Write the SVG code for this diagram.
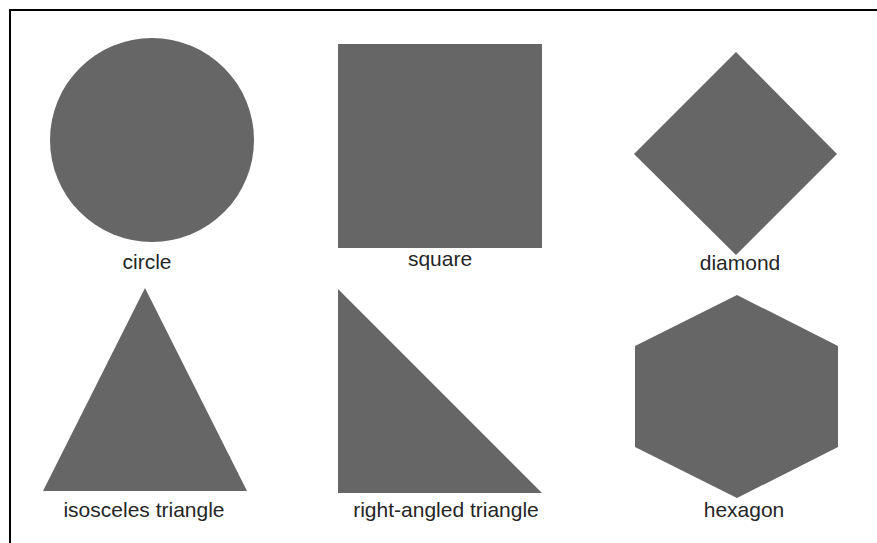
<svg xmlns="http://www.w3.org/2000/svg" width="877" height="543" viewBox="0 0 877 543">
<style>
.s{fill:#666666;stroke:none}
.t{font-family:"Liberation Sans",Arial,Helvetica,sans-serif;font-size:21px;fill:#262626;text-anchor:middle}
</style>
<rect x="0" y="0" width="877" height="543" fill="#ffffff"/>
<rect x="10" y="10" width="900" height="600" fill="none" stroke="#000000" stroke-width="2"/>
<g id="circle"><circle class="s" cx="152" cy="140" r="102"/><text class="t" x="147" y="269">circle</text></g>
<g id="square"><rect class="s" x="338" y="44" width="204" height="204"/><text class="t" x="440" y="266">square</text></g>
<g id="diamond"><polygon class="s" points="736,52 837,154 736,255 634,154"/><text class="t" x="740" y="270">diamond</text></g>
<g id="isosceles"><polygon class="s" points="145,288 247,491 43,491"/><text class="t" x="144" y="517">isosceles triangle</text></g>
<g id="right"><polygon class="s" points="338,289 542,493 338,493"/><text class="t" x="446" y="517">right-angled triangle</text></g>
<g id="hexagon"><polygon class="s" points="737,295 838,346 838,447 737,498 635,447 635,346"/><text class="t" x="744" y="517">hexagon</text></g>
<g id="connectors"></g>
</svg>
